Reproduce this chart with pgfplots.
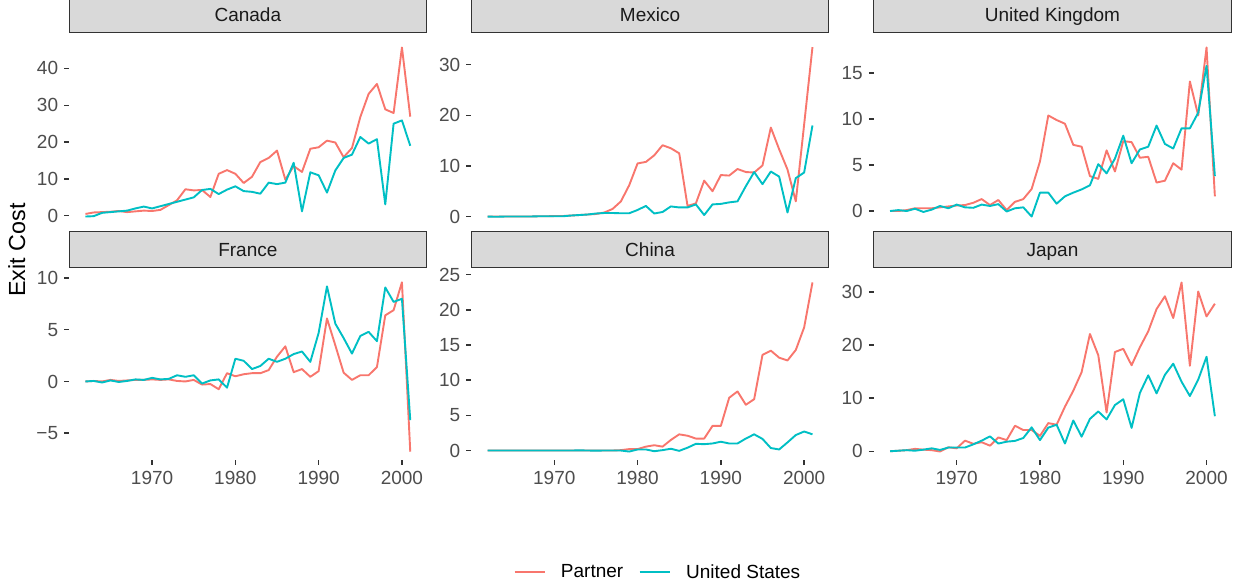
\documentclass[border=0pt]{standalone}
\usepackage{fontspec}
\setmainfont{Liberation Sans}
\usepackage{pgfplots}
\usepackage{pgfplotstable}
\pgfplotsset{compat=1.18}

\definecolor{partner}{HTML}{F8766D}
\definecolor{usa}{HTML}{00BFC4}
\definecolor{stripfill}{HTML}{D9D9D9}
\definecolor{gray20}{HTML}{333333}
\definecolor{gray30}{HTML}{4D4D4D}
\definecolor{gray10}{HTML}{1A1A1A}

% exit cost by year: p = partner, u = United States
\pgfplotstableread{
year p u
1962 0.5 -0.2
1963 0.9 -0.1
1964 1.0 0.8
1965 1.1 1.0
1966 1.3 1.2
1967 1.0 1.4
1968 1.2 2.0
1969 1.4 2.5
1970 1.3 2.0
1971 1.6 2.6
1972 2.9 3.2
1973 4.2 3.8
1974 7.2 4.4
1975 6.9 5.0
1976 7.0 7.0
1977 5.1 7.3
1978 11.4 5.9
1979 12.4 7.1
1980 11.4 8.0
1981 8.9 6.7
1982 10.6 6.5
1983 14.6 6.0
1984 15.7 9.0
1985 17.7 8.6
1986 9.8 9.0
1987 13.5 14.4
1988 11.9 1.2
1989 18.2 11.8
1990 18.6 11.0
1991 20.4 6.3
1992 19.9 12.3
1993 15.9 15.7
1994 18.4 16.6
1995 26.8 21.4
1996 33.1 19.6
1997 35.8 20.8
1998 28.9 3.1
1999 27.9 25.0
2000 45.7 25.9
2001 26.9 19.0
}\canada

\pgfplotstableread{
year p u
1962 0 0
1963 0 -0.05
1964 0 0
1965 0 0
1966 0 0
1967 0 0
1968 0.05 0.05
1969 0.05 0.05
1970 0.1 0.05
1971 0.1 0.05
1972 0.2 0.2
1973 0.3 0.3
1974 0.4 0.4
1975 0.5 0.6
1976 0.8 0.7
1977 1.5 0.7
1978 3.0 0.65
1979 6.2 0.65
1980 10.5 1.3
1981 10.8 2.1
1982 12.1 0.6
1983 14.1 0.9
1984 13.5 2.0
1985 12.5 1.8
1986 2.1 1.8
1987 2.6 2.4
1988 7.1 0.3
1989 5.0 2.4
1990 8.2 2.5
1991 8.1 2.8
1992 9.4 3.0
1993 8.8 6.0
1994 8.7 8.8
1995 10.1 6.4
1996 17.6 8.9
1997 13.3 7.9
1998 9.3 0.8
1999 3.0 7.6
2000 18.2 8.7
2001 33.5 18.0
}\mexico

\pgfplotstableread{
year p u
1962 0 0
1963 0 0.1
1964 0.1 0
1965 0.3 0.25
1966 0.3 -0.1
1967 0.3 0.15
1968 0.4 0.55
1969 0.5 0.3
1970 0.6 0.7
1971 0.65 0.4
1972 0.9 0.35
1973 1.3 0.7
1974 0.65 0.55
1975 1.2 0.75
1976 0.1 -0.05
1977 1.0 0.3
1978 1.3 0.4
1979 2.4 -0.6
1980 5.4 2.0
1981 10.4 2.0
1982 9.9 0.8
1983 9.5 1.6
1984 7.2 2.0
1985 7.0 2.35
1986 3.8 2.8
1987 3.5 5.1
1988 6.6 4.1
1989 4.3 5.7
1990 7.6 8.2
1991 7.5 5.2
1992 5.8 6.7
1993 5.9 7.0
1994 3.1 9.3
1995 3.3 7.3
1996 5.2 6.8
1997 4.5 9.0
1998 14.1 9.0
1999 10.4 10.7
2000 17.8 15.8
2001 1.6 3.8
}\uk

\pgfplotstableread{
year p u
1962 0 0
1963 0.05 0.05
1964 0 -0.1
1965 0.15 0.1
1966 0.05 -0.05
1967 0.1 0.05
1968 0.15 0.2
1969 0.15 0.15
1970 0.2 0.35
1971 0.15 0.2
1972 0.2 0.25
1973 0.05 0.6
1974 0 0.45
1975 0.15 0.6
1976 -0.3 -0.2
1977 -0.25 0.1
1978 -0.75 0.2
1979 0.8 -0.6
1980 0.5 2.2
1981 0.7 2.0
1982 0.8 1.2
1983 0.8 1.5
1984 1.1 2.2
1985 2.4 1.9
1986 3.4 2.2
1987 0.9 2.65
1988 1.2 2.9
1989 0.45 1.9
1990 1.0 4.7
1991 6.1 9.2
1992 3.5 5.6
1993 0.85 4.2
1994 0.15 2.7
1995 0.6 4.4
1996 0.6 4.8
1997 1.4 3.9
1998 6.4 9.1
1999 6.9 7.7
2000 9.6 8.0
2001 -6.8 -3.75
}\france

\pgfplotstableread{
year p u
1962 0 0
1963 0 0
1964 0 0
1965 0 0
1966 0 0
1967 0 0
1968 0 0
1969 0 0
1970 0 0
1971 0 0
1972 0 0
1973 0 0.02
1974 0 0
1975 0 -0.02
1976 0 0
1977 0 0
1978 0.05 0
1979 0.2 -0.15
1980 0.2 0.15
1981 0.55 0.15
1982 0.75 -0.1
1983 0.55 0.05
1984 1.5 0.25
1985 2.3 -0.05
1986 2.1 0.4
1987 1.7 0.95
1988 1.7 0.9
1989 3.5 1.0
1990 3.5 1.25
1991 7.5 1.0
1992 8.4 1.0
1993 6.5 1.7
1994 7.3 2.3
1995 13.6 1.65
1996 14.2 0.35
1997 13.2 0.15
1998 12.8 1.15
1999 14.3 2.2
2000 17.5 2.7
2001 23.9 2.3
}\china

\pgfplotstableread{
year p u
1962 0 0
1963 0.1 0.1
1964 0.2 0.2
1965 0.45 0.1
1966 0.3 0.3
1967 0.2 0.55
1968 -0.05 0.25
1969 0.75 0.7
1970 0.55 0.7
1971 2.0 0.7
1972 1.4 1.3
1973 1.7 2.0
1974 1.05 2.8
1975 2.6 1.45
1976 2.1 1.8
1977 4.8 1.95
1978 4.0 2.5
1979 4.0 4.5
1980 2.9 2.1
1981 5.3 4.45
1982 5.0 5.0
1983 8.4 1.45
1984 11.4 5.8
1985 14.9 2.75
1986 22.1 6.1
1987 18.1 7.5
1988 7.3 6.0
1989 18.7 8.7
1990 19.3 9.8
1991 16.2 4.4
1992 19.6 11.0
1993 22.6 14.3
1994 26.8 10.9
1995 29.2 14.4
1996 25.1 16.5
1997 31.8 13.1
1998 16.1 10.4
1999 30.1 13.5
2000 25.4 17.8
2001 27.8 6.6
}\japan

\newcommand\tickfont{\fontsize{19pt}{22pt}\selectfont}
\newcommand\labfont{\fontsize{23.3pt}{27pt}\selectfont}

\pgfplotsset{
  facet/.style={
    scale only axis, width=357.3pt, height=186pt,
    anchor=south west,
    xmin=1960.05, xmax=2002.95,
    axis line style={draw=none},
    tick align=outside, tick pos=left,
    major tick length=5pt,
    every tick/.style={draw=gray20, line width=1.4pt},
    tick label style={font=\tickfont, text=gray30, inner sep=0pt},
    yticklabel style={anchor=east, xshift=-5.9pt},
    xticklabel style={anchor=north, yshift=-6pt},
    title style={at={(0.5,1)}, anchor=south, yshift=0pt, inner sep=0pt,
      minimum width=357.3pt, minimum height=36.3pt,
      text height=13.6pt, text depth=0pt,
      fill=stripfill, draw=gray20, line width=0.9pt,
      font=\tickfont, text=gray10},
    every axis plot/.append style={line width=1.9pt, line join=round, no marks},
  },
  toprow/.style={facet, xtick=\empty},
  botrow/.style={facet, xtick={1970,1980,1990,2000},
    xticklabels={1970,1980,1990,2000}},
}

\begin{document}
\begin{tikzpicture}
\useasboundingbox (0pt,0pt) rectangle (1233pt,583pt);

\begin{axis}[toprow, at={(69.2pt,358pt)}, title={Canada},
  ymin=-2.5, ymax=48, ytick={0,10,20,30,40}, yticklabels={0,10,20,30,40}]
\addplot[partner] table[x=year,y=p]{\canada};
\addplot[usa] table[x=year,y=u]{\canada};
\end{axis}

\begin{axis}[toprow, at={(471.4pt,358pt)}, title={Mexico},
  ymin=-1.67, ymax=35.1, ytick={0,10,20,30}, yticklabels={0,10,20,30}]
\addplot[partner] table[x=year,y=p]{\mexico};
\addplot[usa] table[x=year,y=u]{\mexico};
\end{axis}

\begin{axis}[toprow, at={(873.8pt,358pt)}, title={United Kingdom},
  ymin=-1.52, ymax=18.72, ytick={0,5,10,15}, yticklabels={0,5,10,15}]
\addplot[partner] table[x=year,y=p]{\uk};
\addplot[usa] table[x=year,y=u]{\uk};
\end{axis}

\begin{axis}[botrow, at={(69.2pt,123pt)}, title={France},
  ymin=-7.6, ymax=10.4, ytick={-5,0,5,10}, yticklabels={−5,0,5,10}]
\addplot[partner] table[x=year,y=p]{\france};
\addplot[usa] table[x=year,y=u]{\france};
\end{axis}

\begin{axis}[botrow, at={(471.4pt,123pt)}, title={China},
  ymin=-1.35, ymax=25.1, ytick={0,5,10,15,20,25}, yticklabels={0,5,10,15,20,25},
  legend columns=2,
  legend style={at={(0.118,-0.6022)}, anchor=west, draw=none, fill=none,
    inner sep=0pt, outer sep=0pt, font=\tickfont, text=black,
    nodes={inner sep=0pt},
    /tikz/every odd column/.append style={column sep=15.5pt},
    /tikz/every even column/.append style={column sep=15.5pt}},
  legend image code/.code={\draw[#1] (0pt,0pt) -- (30pt,0pt);}]
\addplot[partner] table[x=year,y=p]{\china};
\addlegendentry{Partner}
\addplot[usa] table[x=year,y=u]{\china};
\addlegendentry{United States}
\end{axis}

\begin{axis}[botrow, at={(873.8pt,123pt)}, title={Japan},
  ymin=-1.65, ymax=33.4, ytick={0,10,20,30}, yticklabels={0,10,20,30}]
\addplot[partner] table[x=year,y=p]{\japan};
\addplot[usa] table[x=year,y=u]{\japan};
\end{axis}

\node[rotate=90, font=\labfont, text=black, inner sep=0pt] at (16.7pt,333pt) {Exit Cost};
\end{tikzpicture}
\end{document}
